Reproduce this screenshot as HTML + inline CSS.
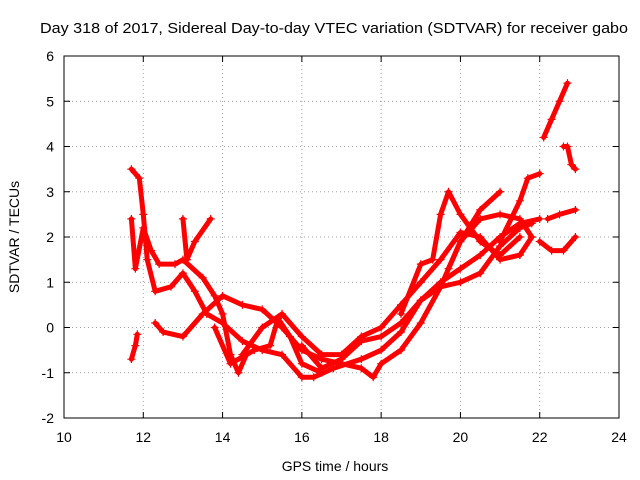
<!DOCTYPE html>
<html><head><meta charset="utf-8"><style>
html,body{margin:0;padding:0;background:#fff;}
svg{display:block;font-family:"Liberation Sans",sans-serif;}
</style></head><body>
<svg id="chart" width="640" height="480">
<rect width="640" height="480" fill="#fff"/>
<text x="40" y="33" font-size="15" textLength="588" lengthAdjust="spacingAndGlyphs" fill="#000">Day 318 of 2017, Sidereal Day-to-day VTEC variation (SDTVAR) for receiver gabo</text>
<text x="335" y="471" font-size="14" text-anchor="middle">GPS time / hours</text>
<text x="19" y="237" font-size="14" text-anchor="middle" transform="rotate(-90 19 237)">SDTVAR / TECUs</text>
<g id="grid"></g><g id="ticks"></g><g id="series"></g>
<rect x="64" y="56" width="555" height="362" fill="none" stroke="#000" stroke-width="1"/>
</svg>
<script>
const xTicks=[10,12,14,16,18,20,22,24];
const yTicks=[-2,-1,0,1,2,3,4,5,6];
const track1=[[11.7,3.5],[11.9,3.3],[12.0,2.5],[12.1,1.5],[12.3,0.8],[12.7,0.9],[13.0,1.2],[13.3,0.8],[13.6,0.3],[14.0,0.1],[14.5,-0.3],[15.0,-0.5],[15.5,-0.6],[16.0,-1.1],[16.3,-1.1],[16.8,-0.9],[17.5,-0.7],[18.0,-0.5],[18.5,-0.1],[19.0,0.6],[19.5,1.0],[20.0,1.3],[20.5,1.6],[21.0,2.0],[21.5,2.3],[22.0,2.4]];
const track2=[[12.3,0.1],[12.5,-0.1],[13.0,-0.2],[13.5,0.3],[14.0,0.7],[14.5,0.5],[15.0,0.4],[15.5,0.0],[16.0,-0.5],[16.5,-0.7],[17.0,-0.8],[17.5,-0.9],[17.8,-1.1],[18.0,-0.8],[18.5,-0.5],[19.0,0.1],[19.5,0.9],[20.0,1.9],[20.5,2.4],[21.0,2.5],[21.5,2.4],[21.8,2.0]];
const track3=[[14.5,-0.6],[15.0,0.0],[15.5,0.3],[16.0,-0.2],[16.5,-0.6],[17.0,-0.6],[17.5,-0.2],[18.0,0.0],[18.5,0.5],[19.0,1.0],[19.5,1.5],[20.0,2.1],[20.5,2.0],[21.0,1.5],[21.5,1.6],[21.8,2.0]];
const track4=[[16.0,-0.4],[16.5,-0.9],[17.0,-0.7],[17.5,-0.3],[18.0,-0.2],[18.5,0.1],[19.0,0.6],[19.5,0.9],[20.0,1.0],[20.5,1.2],[21.0,1.8],[21.5,2.2],[21.8,2.3]];
const track5=[[18.5,0.3],[19.0,1.4],[19.3,1.5],[19.5,2.5],[19.7,3.0],[20.0,2.5],[20.5,1.9],[21.0,1.6],[21.5,2.0]];
const track6=[[19.7,1.3],[20.0,1.9],[20.5,2.6],[21.0,3.0]];
const track7=[[21.0,1.9],[21.5,2.8],[21.7,3.3],[22.0,3.4]];
const track8=[[11.7,2.4],[11.8,1.3],[12.0,2.2],[12.2,1.7],[12.4,1.4],[12.8,1.4],[13.0,1.5],[13.5,1.1],[13.8,0.7],[14.0,0.3],[14.2,-0.6],[14.4,-1.0],[14.6,-0.6]];
const track9=[[13.0,2.4],[13.1,1.5],[13.3,1.9],[13.7,2.4]];
const track10=[[11.7,-0.7],[11.8,-0.4],[11.85,-0.15]];
const track11=[[13.8,0.0],[14.2,-0.8],[14.8,-0.5],[15.2,-0.4],[15.4,0.2],[15.7,-0.2],[16.0,-0.8],[16.5,-1.0]];
const track12=[[22.1,4.2],[22.3,4.6],[22.5,5.0],[22.7,5.4]];
const track13=[[22.6,4.0],[22.7,4.0],[22.8,3.6],[22.9,3.5]];
const track14=[[22.0,1.9],[22.3,1.7],[22.6,1.7],[22.9,2.0]];
const track15=[[22.2,2.4],[22.5,2.5],[22.9,2.6]];
const tracks=[track1,track2,track3,track4,track5,track6,track7,track8,track9,track10,track11,track12,track13,track14,track15];
const X0=64,X1=619,Y0=418,Y1=56;
function sx(v){return X0+(v-10)/(24-10)*(X1-X0);}
function sy(v){return Y0-(v+2)/(6+2)*(Y0-Y1);}
const NS="http://www.w3.org/2000/svg";
const grid=document.getElementById('grid'),ticks=document.getElementById('ticks'),ser=document.getElementById('series');
function mk(t,a,p){const e=document.createElementNS(NS,t);for(const k in a)e.setAttribute(k,a[k]);p.appendChild(e);return e;}
xTicks.forEach(v=>{const x=sx(v);
 if(v>10&&v<24){const g=mk('line',{x1:x,x2:x,y1:Y0,y2:Y1,stroke:'#a0a0a0','stroke-dasharray':'1,3'},grid);
 
 }
 mk('line',{x1:x,x2:x,y1:Y0,y2:Y0-6,stroke:'#000'},ticks);
 mk('line',{x1:x,x2:x,y1:Y1,y2:Y1+6,stroke:'#000'},ticks);
 const t=mk('text',{x:x,y:Y0+24,'font-size':14,'text-anchor':'middle'},ticks);t.textContent=v;
 
 });
yTicks.forEach(v=>{const y=sy(v);
 if(v>-2&&v<6){const g=mk('line',{x1:X0,x2:X1,y1:y,y2:y,stroke:'#a0a0a0','stroke-dasharray':'1,3'},grid);
 
 }
 mk('line',{x1:X0,x2:X0+6,y1:y,y2:y,stroke:'#000'},ticks);
 mk('line',{x1:X1,x2:X1-6,y1:y,y2:y,stroke:'#000'},ticks);
 const t=mk('text',{x:X0-10,y:y+5,'font-size':14,'text-anchor':'end'},ticks);t.textContent=v;
 
 });
tracks.forEach((tr,i)=>{
 const p=mk('polyline',{points:tr.map(d=>sx(d[0])+','+sy(d[1])).join(' '),fill:'none',stroke:'#f00','stroke-width':5,'stroke-linejoin':'round','stroke-linecap':'round'},ser);
 
 
 tr.forEach(d=>{const x=sx(d[0]),y=sy(d[1]);
  const m=mk('path',{d:`M${x-4},${y}H${x+4}M${x},${y-4}V${y+4}`,stroke:'#f00','stroke-width':1.2},ser);
  
  });
});
</script>
</body></html>
